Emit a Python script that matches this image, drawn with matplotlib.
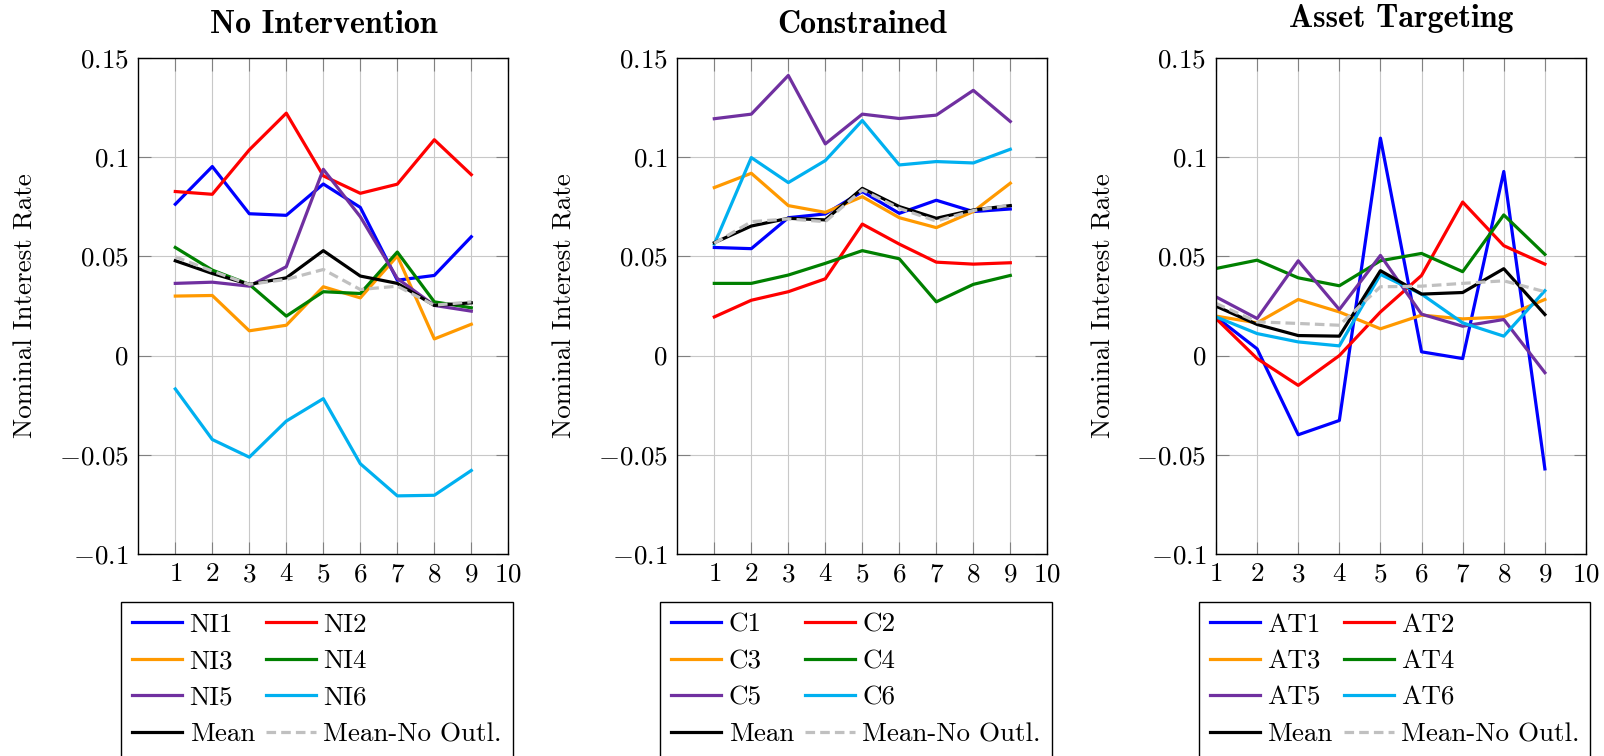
import matplotlib
matplotlib.use('Agg')
import matplotlib.pyplot as plt

plt.rcParams['font.family'] = 'serif'
plt.rcParams['font.serif'] = ['cmr10']
plt.rcParams['mathtext.fontset'] = 'cm'
plt.rcParams['axes.unicode_minus'] = False

##### DATA ######
steps = [1, 2, 3, 4, 5, 6, 7, 8, 9]
x_ticks = [1, 2, 3, 4, 5, 6, 7, 8, 9, 10]
y_ticks = [-0.1, -0.05, 0, 0.05, 0.1, 0.15]
y_tick_labels = [r'$-0.1$', r'$-0.05$', r'$0$', r'$0.05$', r'$0.1$', r'$0.15$']

titles = ['No Intervention', 'Constrained', 'Asset Targeting']

ni_names = ['NI1', 'NI2', 'NI3', 'NI4', 'NI5', 'NI6']
ni1 = [0.0763, 0.0953, 0.0715, 0.0707, 0.0865, 0.0747, 0.0380, 0.0404, 0.0599]
ni2 = [0.0827, 0.0813, 0.1037, 0.1222, 0.0906, 0.0818, 0.0864, 0.1088, 0.0912]
ni3 = [0.0300, 0.0303, 0.0125, 0.0153, 0.0347, 0.0291, 0.0502, 0.0084, 0.0158]
ni4 = [0.0545, 0.0431, 0.0359, 0.0199, 0.0322, 0.0313, 0.0522, 0.0271, 0.0241]
ni5 = [0.0364, 0.0370, 0.0350, 0.0448, 0.0939, 0.0700, 0.0389, 0.0253, 0.0224]
ni6 = [-0.0168, -0.0423, -0.0512, -0.0330, -0.0217, -0.0545, -0.0707, -0.0704, -0.0579]
ni_mean = [0.0478, 0.0414, 0.0359, 0.0392, 0.0529, 0.0401, 0.0364, 0.0253, 0.0266]
ni_mean_no = [0.0498, 0.0426, 0.0359, 0.0384, 0.0434, 0.0333, 0.0350, 0.0254, 0.0271]

c_names = ['C1', 'C2', 'C3', 'C4', 'C5', 'C6']
c1 = [0.0545, 0.0539, 0.0695, 0.0714, 0.0827, 0.0717, 0.0783, 0.0726, 0.0739]
c2 = [0.0195, 0.0279, 0.0322, 0.0387, 0.0663, 0.0562, 0.0471, 0.0461, 0.0468]
c3 = [0.0847, 0.0919, 0.0756, 0.0722, 0.0801, 0.0695, 0.0645, 0.0726, 0.0869]
c4 = [0.0364, 0.0364, 0.0406, 0.0465, 0.0529, 0.0488, 0.0271, 0.0359, 0.0404]
c5 = [0.1194, 0.1217, 0.1412, 0.1067, 0.1217, 0.1195, 0.1212, 0.1337, 0.1180]
c6 = [0.0562, 0.0998, 0.0872, 0.0983, 0.1185, 0.0961, 0.0978, 0.0971, 0.1040]
c_mean = [0.0569, 0.0653, 0.0692, 0.0684, 0.0843, 0.0751, 0.0692, 0.0734, 0.0756]
c_mean_no = [0.0566, 0.0675, 0.0689, 0.0675, 0.0835, 0.0742, 0.0678, 0.0731, 0.0759]

at_names = ['AT1', 'AT2', 'AT3', 'AT4', 'AT5', 'AT6']
at1 = [0.0195, 0.0034, -0.0399, -0.0327, 0.1096, 0.0019, -0.0015, 0.0928, -0.0571]
at2 = [0.0187, -0.0015, -0.0150, 0.0000, 0.0220, 0.0404, 0.0774, 0.0554, 0.0461]
at3 = [0.0199, 0.0165, 0.0283, 0.0220, 0.0135, 0.0204, 0.0185, 0.0195, 0.0283]
at4 = [0.0439, 0.0481, 0.0392, 0.0352, 0.0478, 0.0515, 0.0423, 0.0709, 0.0510]
at5 = [0.0296, 0.0187, 0.0478, 0.0232, 0.0505, 0.0209, 0.0148, 0.0182, -0.0086]
at6 = [0.0195, 0.0111, 0.0069, 0.0049, 0.0409, 0.0310, 0.0165, 0.0098, 0.0327]
at_mean = [0.0249, 0.0157, 0.0101, 0.0098, 0.0428, 0.0310, 0.0318, 0.0438, 0.0207]
at_mean_no = [0.0263, 0.0170, 0.0162, 0.0153, 0.0347, 0.0350, 0.0364, 0.0377, 0.0322]

colors = ['#0000ff', '#ff0000', '#ff9900', '#008000', '#7030a0', '#00b0f0']

###### PLOT ######
panels = [
    (titles[0], ni_names, [ni1, ni2, ni3, ni4, ni5, ni6], ni_mean, ni_mean_no, 0, 18),
    (titles[1], c_names, [c1, c2, c3, c4, c5, c6], c_mean, c_mean_no, 0, 18),
    (titles[2], at_names, [at1, at2, at3, at4, at5, at6], at_mean, at_mean_no, 1, 22),
]

W, H = 1604, 756
fig = plt.figure(figsize=(W / 100, H / 100), dpi=100)
fs = 19.5
lefts = [138.3, 677.3, 1216.0]

for (title, names, series, mean, mean_no, xmin, tpad), left in zip(panels, lefts):
    ax = fig.add_axes([left / W, 1 - 554 / H, 370 / W, 496 / H])
    for name, ys, col in zip(names, series, colors):
        ax.plot(steps, ys, color=col, lw=2.3, label=name)
    ax.plot(steps, mean, color='black', lw=2.3, label='Mean')
    ax.plot(steps, mean_no, color='#c0c0c0', lw=2.3, dashes=(3.0, 1.6), label='Mean-No Outl.')

    ax.set_xlim(xmin, 10)
    ax.set_ylim(-0.1, 0.15)
    ax.set_xticks(x_ticks)
    ax.set_xticklabels([r'$%d$' % t for t in x_ticks], fontsize=fs)
    ax.set_yticks(y_ticks)
    ax.set_yticklabels(y_tick_labels, fontsize=fs)
    ax.grid(True, color='#c8c8c8', lw=0.8)
    ax.set_axisbelow(True)
    ax.tick_params(direction='in', length=9, width=0.8, color='#808080',
                   top=True, right=True)
    ax.tick_params(axis='y', pad=7)
    ax.tick_params(axis='x', pad=6)
    for s in ax.spines.values():
        s.set_linewidth(1.0)
    ax.set_ylabel('Nominal Interest Rate', fontsize=fs, labelpad=15)
    ax.set_title(title, fontsize=23, family='cmb10', pad=tpad)

    # legend is filled row by row: reorder for matplotlib's column filling
    h, l = ax.get_legend_handles_labels()
    order = [0, 2, 4, 6, 1, 3, 5, 7]
    leg = ax.legend([h[i] for i in order], [l[i] for i in order],
                    loc='upper center', bbox_to_anchor=(0.483, -0.097), ncol=2,
                    fontsize=fs, frameon=True, fancybox=False, borderaxespad=0,
                    handlelength=1.85, handletextpad=0.27, columnspacing=0.4,
                    labelspacing=0.46, borderpad=0.4)
    leg.get_frame().set_edgecolor('black')
    leg.get_frame().set_linewidth(1.0)
    leg.get_frame().set_alpha(1)

fig.savefig('out.png', dpi=100)
